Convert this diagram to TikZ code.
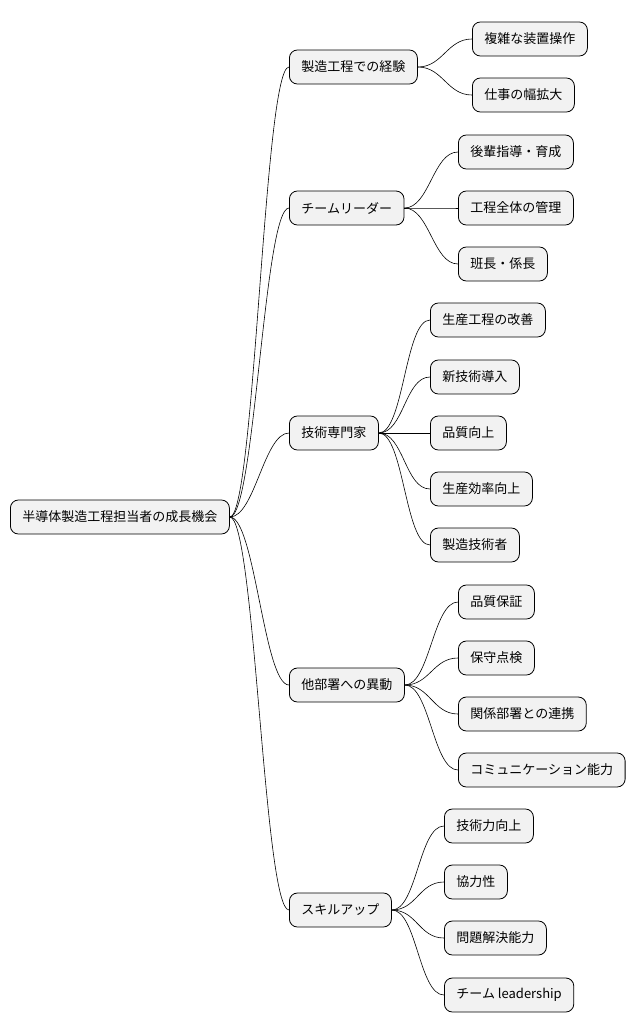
\documentclass[tikz,border=0pt]{standalone}
\usepackage{fontspec}
\setmainfont{Noto Sans CJK JP}
\begin{document}
\begin{tikzpicture}[x=1pt,y=-1pt,
  box/.style={draw=black,line width=0.8pt,fill=black!5,rounded corners=8pt,inner xsep=12pt,minimum height=34pt,anchor=west,font=\fontsize{13}{15}\selectfont},
  ln/.style={draw=black,line width=0.6pt}]
\useasboundingbox (0,0) rectangle (642,1034);
\node[box] (r) at (10,517) {半導体製造工程担当者の成長機会};
\node[box] (a) at (289,67) {製造工程での経験};
\node[box] (b) at (289,208) {チームリーダー};
\node[box] (c) at (289,433) {技術専門家};
\node[box] (d) at (289,685) {他部署への異動};
\node[box] (e) at (289,910) {スキルアップ};
\node[box] (a1) at (472,39) {複雑な装置操作};
\node[box] (a2) at (472,95) {仕事の幅拡大};
\node[box] (b1) at (458,152) {後輩指導・育成};
\node[box] (b2) at (458,208) {工程全体の管理};
\node[box] (b3) at (458,264) {班長・係長};
\node[box] (c1) at (430,320) {生産工程の改善};
\node[box] (c2) at (430,377) {新技術導入};
\node[box] (c3) at (430,433) {品質向上};
\node[box] (c4) at (430,489) {生産効率向上};
\node[box] (c5) at (430,545) {製造技術者};
\node[box] (d1) at (458,602) {品質保証};
\node[box] (d2) at (458,658) {保守点検};
\node[box] (d3) at (458,714) {関係部署との連携};
\node[box] (d4) at (458,770) {コミュニケーション能力};
\node[box] (e1) at (444,826) {技術力向上};
\node[box] (e2) at (444,882) {協力性};
\node[box] (e3) at (444,938) {問題解決能力};
\node[box] (e4) at (444,995) {チーム leadership};
\foreach \p/\cs in {r/{a,b,c,d,e},a/{a1,a2},b/{b1,b2,b3},c/{c1,c2,c3,c4,c5},d/{d1,d2,d3,d4},e/{e1,e2,e3,e4}}{
  \foreach \ch in \cs {
    \path[ln] (\p.east) .. controls ([xshift=25pt]\p.east) and ([xshift=-25pt]\ch.west) .. (\ch.west);
  }
}
\end{tikzpicture}
\end{document}
